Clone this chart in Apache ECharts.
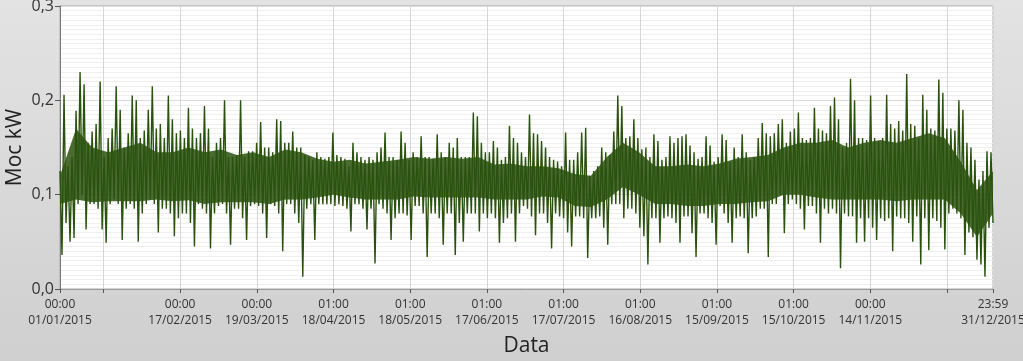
<!DOCTYPE html>
<html><head><meta charset="utf-8">
<script src="https://cdn.jsdelivr.net/npm/echarts@6/dist/echarts.min.js"></script>
<style>html,body{margin:0;padding:0;}#c{width:1023px;height:361px;background:linear-gradient(#e3e3e3,#cfcfcf);}</style>
</head><body><div id="c"></div>
<script>
// Upper and lower extremes of the hourly power trace, read column by column (kW)
const powerHigh = [
0.125,0.206,0.13,0.14,0.189,0.23,0.217,0.155,0.167,0.175,
0.22,0.14,0.16,0.17,0.215,0.19,0.15,0.165,0.205,0.2,
0.16,0.168,0.19,0.215,0.17,0.175,0.16,0.205,0.18,0.165,
0.168,0.16,0.192,0.17,0.16,0.165,0.194,0.17,0.14,
0.155,0.16,0.2,0.14,0.14,0.142,0.2,0.14,0.146,0.146,
0.155,0.177,0.15,0.15,0.145,0.18,0.178,0.155,0.155,0.167,
0.15,0.15,0.142,0.14,0.137,0.145,0.14,0.138,0.14,0.166,
0.142,0.14,0.138,0.13,0.155,0.145,0.14,0.137,0.14,
0.137,0.145,0.15,0.166,0.14,0.14,0.137,0.167,0.155,0.137,
0.145,0.14,0.162,0.14,0.14,0.138,0.164,0.145,0.14,0.155,
0.15,0.16,0.14,0.14,0.14,0.187,0.183,0.155,0.145,0.145,
0.157,0.15,0.137,0.14,0.173,0.16,0.155,0.145,0.14,
0.185,0.165,0.164,0.157,0.15,0.14,0.137,0.135,0.13,0.166,
0.137,0.137,0.145,0.166,0.171,0.12,0.125,0.13,0.15,0.145,
0.142,0.167,0.205,0.194,0.16,0.162,0.18,0.16,0.148,0.15,
0.14,0.164,0.157,0.137,0.14,0.162,0.155,0.16,0.162,
0.164,0.152,0.145,0.138,0.14,0.162,0.152,0.135,0.14,0.164,
0.158,0.135,0.15,0.14,0.164,0.145,0.137,0.14,0.16,0.176,
0.165,0.162,0.165,0.175,0.18,0.155,0.167,0.17,0.187,0.16,
0.158,0.16,0.192,0.17,0.168,0.165,0.194,0.203,0.18,
0.15,0.155,0.223,0.2,0.16,0.16,0.158,0.205,0.16,0.157,
0.16,0.206,0.175,0.17,0.178,0.168,0.228,0.175,0.173,0.16,
0.206,0.19,0.17,0.168,0.222,0.208,0.17,0.17,0.168,0.2,
0.19,0.155,0.15,0.137,0.116,0.125,0.146,0.145
];
const powerLow = [
0.036,0.07,0.05,0.054,0.09,0.1,0.063,0.09,0.09,0.085,
0.063,0.049,0.09,0.095,0.09,0.052,0.085,0.09,0.085,0.05,
0.08,0.09,0.095,0.09,0.06,0.085,0.085,0.08,0.056,0.075,
0.08,0.08,0.07,0.045,0.09,0.085,0.08,0.043,0.08,
0.088,0.09,0.08,0.047,0.085,0.085,0.075,0.052,0.088,0.09,
0.088,0.08,0.054,0.09,0.088,0.08,0.04,0.09,0.09,0.08,
0.07,0.013,0.085,0.09,0.052,0.09,0.09,0.09,0.09,0.088,
0.09,0.088,0.085,0.061,0.09,0.09,0.085,0.063,0.085,
0.027,0.09,0.085,0.08,0.052,0.075,0.08,0.08,0.078,0.052,
0.088,0.088,0.08,0.034,0.08,0.08,0.075,0.047,0.08,0.08,
0.036,0.07,0.05,0.08,0.08,0.08,0.061,0.08,0.075,0.08,
0.075,0.049,0.07,0.075,0.08,0.05,0.08,0.088,0.085,
0.077,0.057,0.08,0.08,0.07,0.043,0.08,0.077,0.075,0.06,
0.045,0.077,0.077,0.075,0.033,0.075,0.075,0.077,0.065,0.047,
0.09,0.09,0.09,0.075,0.085,0.085,0.08,0.065,0.056,0.026,
0.075,0.075,0.049,0.075,0.077,0.075,0.07,0.049,0.077,
0.077,0.059,0.034,0.08,0.08,0.075,0.07,0.047,0.088,0.08,
0.07,0.049,0.075,0.077,0.075,0.038,0.075,0.077,0.085,0.085,
0.034,0.09,0.09,0.1,0.059,0.09,0.095,0.09,0.085,0.063,
0.088,0.088,0.08,0.049,0.085,0.08,0.085,0.08,0.022,
0.08,0.077,0.077,0.049,0.075,0.05,0.075,0.065,0.052,0.075,
0.072,0.075,0.04,0.077,0.075,0.075,0.07,0.05,0.077,0.026,
0.075,0.041,0.075,0.072,0.065,0.042,0.08,0.085,0.08,0.075,
0.036,0.06,0.055,0.031,0.026,0.013,0.065,0.07
];
// Dense dark core of the trace (upper / lower edge), read at a coarser step (kW)
const coreHigh = [
0.12,0.17,0.15,0.145,0.15,0.155,0.145,0.145,0.15,0.145,
0.148,0.142,0.145,0.14,0.148,0.145,0.138,0.135,0.137,0.133,
0.135,0.137,0.14,0.138,0.14,0.138,0.14,0.132,0.133,0.13,
0.13,0.128,0.122,0.12,0.14,0.155,0.145,0.13,0.13,0.132,
0.13,0.133,0.138,0.14,0.142,0.15,0.155,0.155,0.158,0.15,
0.155,0.158,0.155,0.16,0.165,0.16,0.135,0.105,0.125
];
const coreLow = [
0.09,0.095,0.092,0.093,0.093,0.093,0.095,0.093,0.094,0.09,
0.092,0.092,0.092,0.09,0.095,0.095,0.097,0.1,0.097,0.095,
0.095,0.095,0.098,0.097,0.097,0.097,0.097,0.095,0.095,0.095,
0.098,0.097,0.088,0.087,0.095,0.108,0.1,0.09,0.09,0.088,
0.088,0.09,0.09,0.092,0.093,0.1,0.1,0.097,0.095,0.095,
0.095,0.095,0.093,0.095,0.095,0.095,0.08,0.055,0.08
];
// x axis: days since 01/01/2015 00:00
const dayEnd = 365 - 1/1440; // 31/12/2015 23:59
const tickDays  = [0, 17, 47, 77, 107, 137, 167, 197, 227, 257, 287, 317, 347, dayEnd];
const tickTimes = ['00:00','', '00:00','00:00','01:00','01:00','01:00','01:00','01:00','01:00','01:00','00:00','', '23:59'];
const tickDates = ['01/01/2015','','17/02/2015','19/03/2015','18/04/2015','18/05/2015','17/06/2015','17/07/2015','16/08/2015','15/09/2015','15/10/2015','14/11/2015','','31/12/2015'];
const yMin = 0, yMax = 0.3, yStep = 0.1;

const nPts = powerHigh.length * 2;
const traceData = [];
for (let i = 0; i < powerHigh.length; i++) {
  traceData.push([(2*i) * dayEnd / (nPts - 1), powerHigh[i]]);
  traceData.push([(2*i+1) * dayEnd / (nPts - 1), powerLow[i]]);
}
const coreSteps = coreLow.map((v, i) => i);
const coreSpan = coreHigh.map((v, i) => +(v - coreLow[i]).toFixed(4));

const green = '#2a520e';
const font = '"Open Sans", "Noto Sans", sans-serif';
const chart = echarts.init(document.getElementById('c'), null, {renderer: 'canvas'});
chart.setOption({
  backgroundColor: 'transparent',
  animation: false,
  grid: {left: 60, right: 30, top: 6, bottom: 72, containLabel: false, outerBoundsMode: 'none',
         show: true, backgroundColor: '#ffffff', borderColor: '#a8a8a8', borderWidth: 1},
  xAxis: [{
    type: 'value', min: 0, max: dayEnd,
    name: 'Data', nameLocation: 'middle', nameGap: 47, nameMoveOverlap: false,
    nameTextStyle: {fontFamily: font, fontSize: 21, color: '#222'},
    axisLine: {show: true, lineStyle: {color: '#9a9a9a'}},
    axisTick: {show: true, length: 4, inside: false, customValues: tickDays, lineStyle: {color: '#555'}},
    splitLine: {show: true, lineStyle: {color: '#d6d6d6', width: 1}},
    axisLabel: {
      customValues: tickDays, showMinLabel: true, showMaxLabel: true, margin: 8, hideOverlap: false,
      fontFamily: font, fontSize: 12, color: '#333', lineHeight: 16, align: 'center',
      formatter: function (v) {
        let idx = -1;
        for (let i = 0; i < tickDays.length; i++) if (Math.abs(tickDays[i] - v) < 1e-6) idx = i;
        if (idx < 0 || !tickTimes[idx]) return '';
        return tickTimes[idx] + '\n' + tickDates[idx];
      }
    }
  }, {
    type: 'category', data: coreSteps, boundaryGap: false, show: false,
    axisLine: {show: false}, axisTick: {show: false}, axisLabel: {show: false}, splitLine: {show: false}
  }],
  yAxis: {
    type: 'value', min: yMin, max: yMax, interval: yStep,
    name: 'Moc kW', nameLocation: 'middle', nameGap: 34, nameRotate: 90, nameMoveOverlap: false,
    nameTextStyle: {fontFamily: font, fontSize: 21, color: '#222'},
    axisLine: {show: true, lineStyle: {color: '#7a7a7a'}},
    axisTick: {show: true, length: 5, lineStyle: {color: '#555'}},
    axisLabel: {fontFamily: font, fontSize: 16, color: '#333', margin: 6,
      formatter: v => v.toFixed(1).replace('.', ',')},
    splitLine: {show: true, lineStyle: {color: '#dcdcdc'}},
    minorTick: {show: false, splitNumber: 20},
    minorSplitLine: {show: true, lineStyle: {color: '#efefef'}}
  },
  series: [
    {type: 'line', xAxisIndex: 1, data: coreLow, stack: 'core', showSymbol: false, lineStyle: {width: 0, opacity: 0}, silent: true},
    {type: 'line', xAxisIndex: 1, data: coreSpan, stack: 'core', showSymbol: false, lineStyle: {width: 0, opacity: 0},
     areaStyle: {color: green, opacity: 0.85}, silent: true},
    {type: 'line', xAxisIndex: 0, data: traceData, showSymbol: false, sampling: null,
     lineStyle: {color: green, width: 1.4}, clip: true}
  ]
});
</script></body></html>
